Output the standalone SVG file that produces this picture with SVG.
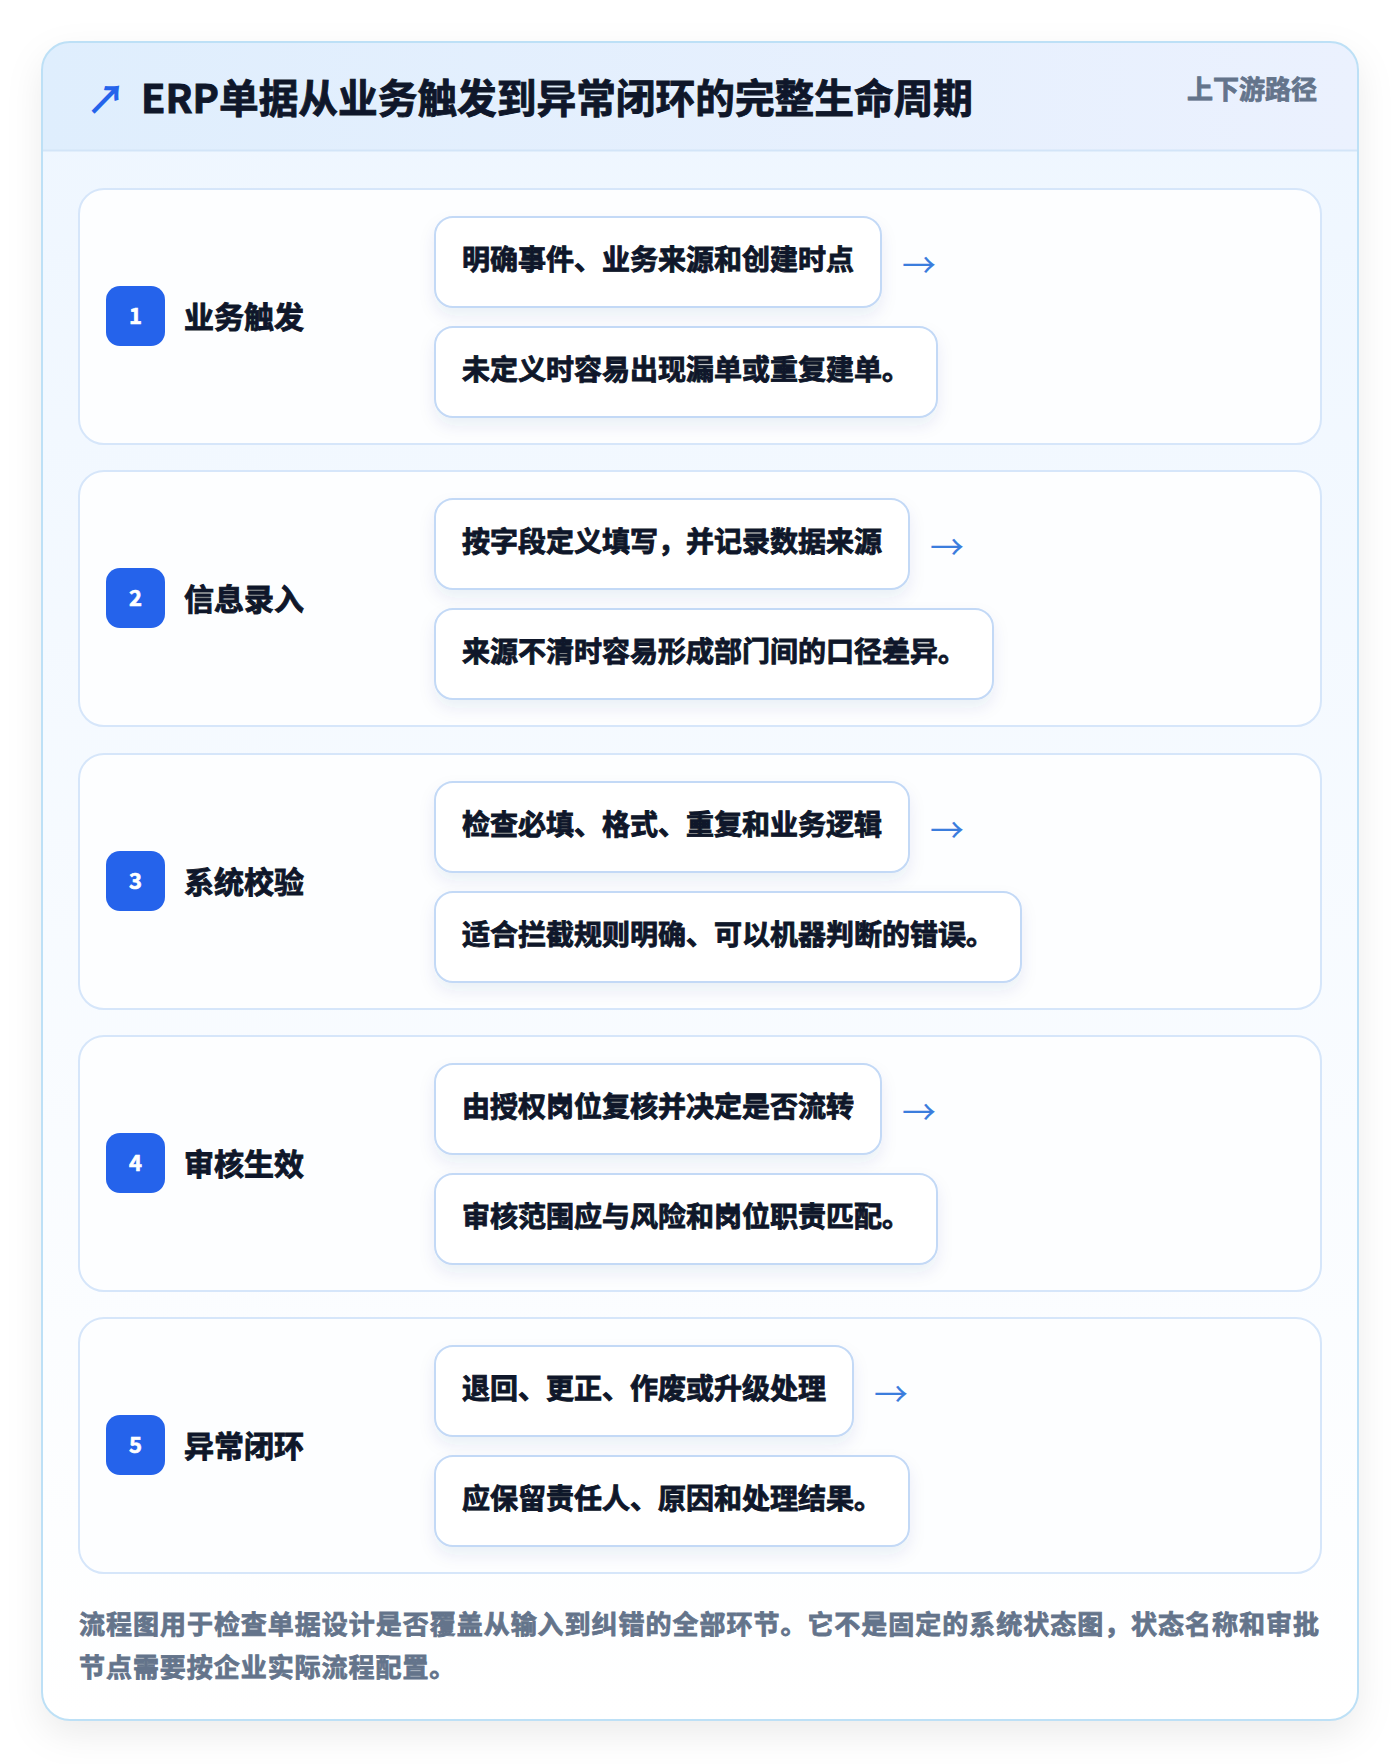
<svg xmlns="http://www.w3.org/2000/svg" width="1400" height="1764" viewBox="0 0 1400 1764">
<defs>
<linearGradient id="bodyGrad" x1="0" y1="0" x2="0" y2="1">
<stop offset="0" stop-color="#eef6ff"/>
<stop offset="1" stop-color="#ffffff"/>
</linearGradient>
<linearGradient id="headGrad" x1="0" y1="0" x2="1" y2="0">
<stop offset="0" stop-color="#dfeefd"/>
<stop offset="1" stop-color="#ebf1fe"/>
</linearGradient>
<filter id="cardShadow" x="-10%" y="-10%" width="120%" height="120%">
<feDropShadow dx="0" dy="14" stdDeviation="18" flood-color="#0f172a" flood-opacity="0.08"/>
</filter>
<filter id="boxShadow" x="-10%" y="-20%" width="120%" height="160%">
<feDropShadow dx="0" dy="8" stdDeviation="8" flood-color="#1e3a8a" flood-opacity="0.08"/>
</filter>
<clipPath id="cardClip"><rect x="42" y="42" width="1316" height="1678" rx="28"/></clipPath>
<style>
.t{font-family:"Noto Sans CJK SC","Noto Sans",sans-serif;font-weight:700;}
.dk{fill:#0f172a;stroke:#0f172a;stroke-width:0.9;}
.gr{fill:#64748b;stroke:#64748b;stroke-width:0.8;}
.step{fill:#fdfeff;stroke:#d6e6fa;stroke-width:2;}
.badge{fill:#2563eb;}
.num{fill:#ffffff;font-size:22px;text-anchor:middle;stroke:#ffffff;stroke-width:0.6;}
.stitle{font-size:30px;}
.box{fill:#ffffff;stroke:#c3d9f6;stroke-width:2;filter:url(#boxShadow);}
.btxt{font-size:28px;}
.arrow{fill:#3b7ddd;font-size:34px;font-family:"Noto Sans CJK SC",sans-serif;font-weight:400;}
</style>
</defs>
<rect x="0" y="0" width="1400" height="1764" fill="#ffffff"/>
<g id="card">
<rect x="42" y="42" width="1316" height="1678" rx="28" fill="url(#bodyGrad)" filter="url(#cardShadow)"/>
<rect x="42" y="42" width="1316" height="109" fill="url(#headGrad)" clip-path="url(#cardClip)"/>
<line x1="42" y1="150.5" x2="1358" y2="150.5" stroke="#d3e5f8" stroke-width="2"/>
<rect x="42" y="42" width="1316" height="1678" rx="28" fill="none" stroke="#bde0f6" stroke-width="2"/>
</g>
<g id="header">
<text x="86" y="114" font-size="40" fill="#2563eb" font-family="Noto Sans CJK SC,sans-serif" font-weight="700">↗</text>
<text class="t dk" x="141" y="113" font-size="39.7" stroke-width="1.2">ERP单据从业务触发到异常闭环的完整生命周期</text>
<text class="t gr" x="1317" y="99" font-size="26" text-anchor="end">上下游路径</text>
</g>
<g id="step1">
<rect class="step" x="79" y="189" width="1242" height="255" rx="25"/>
<rect class="badge" x="106" y="286" width="59" height="60" rx="14"/>
<text class="t num" x="135.5" y="324">1</text>
<text class="t dk stitle" x="184" y="328">业务触发</text>
<rect class="box" x="435" y="217" width="446" height="90" rx="18"/>
<text class="t dk btxt" x="462" y="270">明确事件、业务来源和创建时点</text>
<text class="arrow" x="902" y="278">→</text>
<rect class="box" x="435" y="327" width="502" height="90" rx="18"/>
<text class="t dk btxt" x="462" y="380">未定义时容易出现漏单或重复建单。</text>
</g>
<g id="step2">
<rect class="step" x="79" y="471" width="1242" height="255" rx="25"/>
<rect class="badge" x="106" y="568" width="59" height="60" rx="14"/>
<text class="t num" x="135.5" y="606">2</text>
<text class="t dk stitle" x="184" y="610">信息录入</text>
<rect class="box" x="435" y="499" width="474" height="90" rx="18"/>
<text class="t dk btxt" x="462" y="552">按字段定义填写，并记录数据来源</text>
<text class="arrow" x="930" y="560">→</text>
<rect class="box" x="435" y="609" width="558" height="90" rx="18"/>
<text class="t dk btxt" x="462" y="662">来源不清时容易形成部门间的口径差异。</text>
</g>
<g id="step3">
<rect class="step" x="79" y="754" width="1242" height="255" rx="25"/>
<rect class="badge" x="106" y="851" width="59" height="60" rx="14"/>
<text class="t num" x="135.5" y="889">3</text>
<text class="t dk stitle" x="184" y="893">系统校验</text>
<rect class="box" x="435" y="782" width="474" height="90" rx="18"/>
<text class="t dk btxt" x="462" y="835">检查必填、格式、重复和业务逻辑</text>
<text class="arrow" x="930" y="843">→</text>
<rect class="box" x="435" y="892" width="586" height="90" rx="18"/>
<text class="t dk btxt" x="462" y="945">适合拦截规则明确、可以机器判断的错误。</text>
</g>
<g id="step4">
<rect class="step" x="79" y="1036" width="1242" height="255" rx="25"/>
<rect class="badge" x="106" y="1133" width="59" height="60" rx="14"/>
<text class="t num" x="135.5" y="1171">4</text>
<text class="t dk stitle" x="184" y="1175">审核生效</text>
<rect class="box" x="435" y="1064" width="446" height="90" rx="18"/>
<text class="t dk btxt" x="462" y="1117">由授权岗位复核并决定是否流转</text>
<text class="arrow" x="902" y="1125">→</text>
<rect class="box" x="435" y="1174" width="502" height="90" rx="18"/>
<text class="t dk btxt" x="462" y="1227">审核范围应与风险和岗位职责匹配。</text>
</g>
<g id="step5">
<rect class="step" x="79" y="1318" width="1242" height="255" rx="25"/>
<rect class="badge" x="106" y="1415" width="59" height="60" rx="14"/>
<text class="t num" x="135.5" y="1453">5</text>
<text class="t dk stitle" x="184" y="1457">异常闭环</text>
<rect class="box" x="435" y="1346" width="418" height="90" rx="18"/>
<text class="t dk btxt" x="462" y="1399">退回、更正、作废或升级处理</text>
<text class="arrow" x="874" y="1407">→</text>
<rect class="box" x="435" y="1456" width="474" height="90" rx="18"/>
<text class="t dk btxt" x="462" y="1509">应保留责任人、原因和处理结果。</text>
</g>
<g id="connectors"></g>
<g id="footer">
<text class="t gr" x="79" y="1634" font-size="26" textLength="1240" lengthAdjust="spacing">流程图用于检查单据设计是否覆盖从输入到纠错的全部环节。它不是固定的系统状态图，状态名称和审批</text>
<text class="t gr" x="79" y="1677" font-size="26" letter-spacing="0.95">节点需要按企业实际流程配置。</text>
</g>
</svg>
